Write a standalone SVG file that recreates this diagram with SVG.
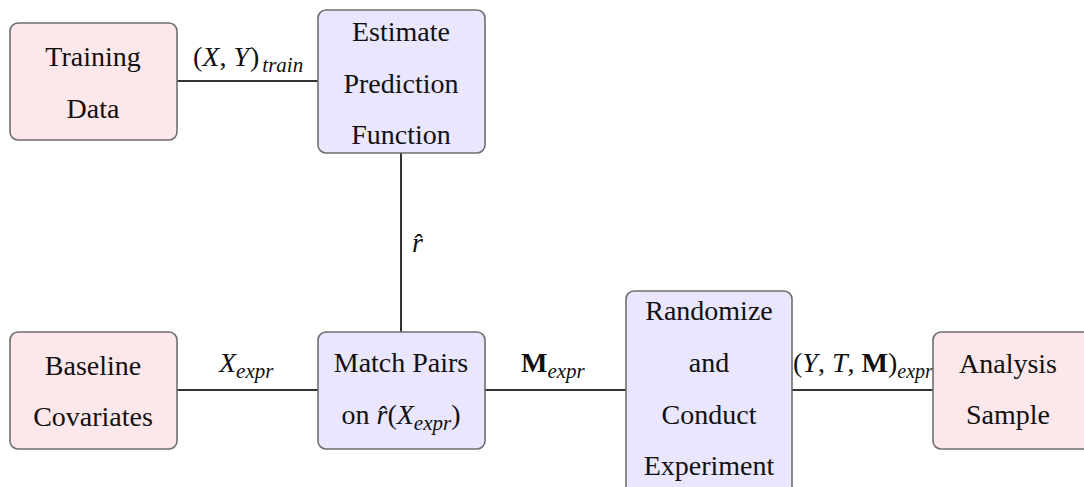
<svg xmlns="http://www.w3.org/2000/svg" width="1084" height="487" viewBox="0 0 1084 487">
<defs>
<style>
.box{stroke:#6f6f6f;stroke-width:1.6}
.data{fill:#fce7ea}
.proc{fill:#e9e6fd}
.edge{stroke:#333;stroke-width:2;fill:none}
</style>
</defs>
<rect width="1084" height="487" fill="#fff"/>
<g id="connectors">
<line class="edge" x1="177" y1="81" x2="318" y2="81"/>
<line class="edge" x1="401" y1="153" x2="401" y2="332"/>
<line class="edge" x1="177" y1="390" x2="318" y2="390"/>
<line class="edge" x1="485" y1="390" x2="626" y2="390"/>
<line class="edge" x1="792" y1="390" x2="933" y2="390"/>
<text font-family="Liberation Serif" font-size="28" fill="#111" x="193" y="66">(<tspan font-style="italic">X</tspan>, <tspan font-style="italic">Y</tspan><tspan dx="1">)</tspan><tspan font-size="21" font-style="italic" dy="6" dx="3">train</tspan></text>
<text font-family="Liberation Serif" font-size="28" fill="#111" x="412" y="252" font-style="italic">r̂</text>
<text font-family="Liberation Serif" font-size="28" fill="#111" x="219" y="372"><tspan font-style="italic">X</tspan><tspan font-size="21" font-style="italic" dy="6">expr</tspan></text>
<text font-family="Liberation Serif" font-size="28" fill="#111" x="521" y="372"><tspan font-weight="bold">M</tspan><tspan font-size="21" font-style="italic" dy="6">expr</tspan></text>
<text font-family="Liberation Serif" font-size="28" fill="#111" x="793" y="372">(<tspan font-style="italic">Y</tspan>, <tspan font-style="italic">T</tspan>, <tspan font-weight="bold">M</tspan>)<tspan font-size="20" font-style="italic" dy="6">expr</tspan></text>
</g>
<g id="training-data">
<rect class="box data" x="10" y="23" width="167" height="117" rx="8"/>
<text font-family="Liberation Serif" font-size="28" fill="#111" text-anchor="middle" x="93" y="66">Training</text>
<text font-family="Liberation Serif" font-size="28" fill="#111" text-anchor="middle" x="93" y="118">Data</text>
</g>
<g id="estimate-prediction">
<rect class="box proc" x="318" y="10" width="167" height="143" rx="8"/>
<text font-family="Liberation Serif" font-size="28" fill="#111" text-anchor="middle" x="401" y="41">Estimate</text>
<text font-family="Liberation Serif" font-size="28" fill="#111" text-anchor="middle" x="401" y="93">Prediction</text>
<text font-family="Liberation Serif" font-size="28" fill="#111" text-anchor="middle" x="401" y="144">Function</text>
</g>
<g id="baseline-covariates">
<rect class="box data" x="10" y="332" width="167" height="117" rx="8"/>
<text font-family="Liberation Serif" font-size="28" fill="#111" text-anchor="middle" x="93" y="375">Baseline</text>
<text font-family="Liberation Serif" font-size="28" fill="#111" text-anchor="middle" x="93" y="426">Covariates</text>
</g>
<g id="match-pairs">
<rect class="box proc" x="318" y="332" width="167" height="117" rx="8"/>
<text font-family="Liberation Serif" font-size="28" fill="#111" text-anchor="middle" x="401" y="372">Match Pairs</text>
<text font-family="Liberation Serif" font-size="28" fill="#111" text-anchor="middle" x="401" y="424">on <tspan font-style="italic">r̂</tspan>(<tspan font-style="italic">X</tspan><tspan font-size="21" font-style="italic" dy="6">expr</tspan><tspan dy="-6">)</tspan></text>
</g>
<g id="randomize">
<rect class="box proc" x="626" y="291" width="166" height="205" rx="8"/>
<text font-family="Liberation Serif" font-size="28" fill="#111" text-anchor="middle" x="709" y="320">Randomize</text>
<text font-family="Liberation Serif" font-size="28" fill="#111" text-anchor="middle" x="709" y="372">and</text>
<text font-family="Liberation Serif" font-size="28" fill="#111" text-anchor="middle" x="709" y="424">Conduct</text>
<text font-family="Liberation Serif" font-size="28" fill="#111" text-anchor="middle" x="709" y="475">Experiment</text>
</g>
<g id="analysis-sample">
<rect class="box data" x="933" y="332" width="167" height="117" rx="8"/>
<text font-family="Liberation Serif" font-size="28" fill="#111" text-anchor="middle" x="1008" y="373">Analysis</text>
<text font-family="Liberation Serif" font-size="28" fill="#111" text-anchor="middle" x="1008" y="424">Sample</text>
</g>
</svg>
